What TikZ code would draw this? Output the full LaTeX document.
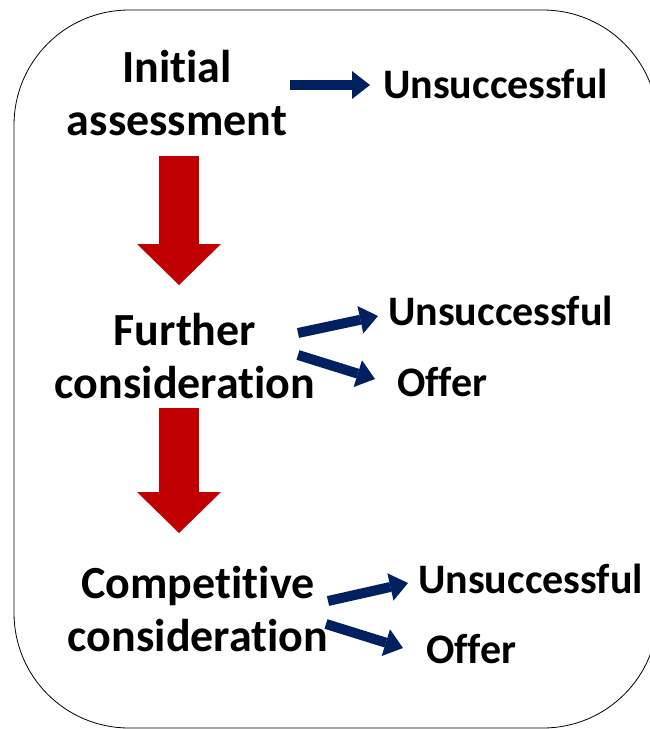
\documentclass[tikz,border=0pt]{standalone}
\usepackage{fontspec}
\setmainfont{Carlito}[Ligatures=NoCommon]
\usetikzlibrary{arrows.meta}
\definecolor{navyblue}{HTML}{002060}
\definecolor{blockred}{HTML}{C00000}
\begin{document}
\begin{tikzpicture}[x=1pt,y=-1pt,
  stage/.style={font=\fontsize{46}{53}\selectfont\bfseries, inner sep=0pt, align=center, anchor=base},
  outcome/.style={font=\fontsize{42}{53}\selectfont\bfseries, inner sep=0pt, anchor=base west},
  navyarrow/.style={draw=navyblue, line width=10pt,
    -{Triangle[length=18pt 0 0, width=28pt 0 0, line width=0pt 0 0]}},
  redarrow/.style={draw=blockred, line width=40pt,
    -{Triangle[length=41pt 0 0, width=84pt 0 0, line width=0pt 0 0]}},
  frame/.style={draw=black, line width=0.8pt, rounded corners=115pt}
]
\useasboundingbox (0,0) rectangle (650,729);
\draw[frame] (14,10) rectangle (658,728);

\node[stage] (ia) at (177,135) {Initial\\assessment};
\node[stage] (fc) at (185,398) {Further\\consideration};
\node[stage] (cc) at (198,651) {Competitive\\consideration};

\node[outcome] (u1) at (383,98) {Unsuccessful};
\node[outcome] (u2) at (388,325) {Unsuccessful};
\node[outcome] (o2) at (397,396) {Offer};
\node[outcome] (u3) at (418,593) {Unsuccessful};
\node[outcome] (o3) at (426,663) {Offer};

\coordinate (a1s) at (290,85);  \coordinate (a1e) at (370,85);
\coordinate (a2s) at (298,333); \coordinate (a2e) at (378,316);
\coordinate (a3s) at (298,355); \coordinate (a3e) at (375,379);
\coordinate (a4s) at (328,601); \coordinate (a4e) at (408,583);
\coordinate (a5s) at (326,624); \coordinate (a5e) at (403,648);
\draw[navyarrow] (a1s) -- (a1e);
\draw[navyarrow] (a2s) -- (a2e);
\draw[navyarrow] (a3s) -- (a3e);
\draw[navyarrow] (a4s) -- (a4e);
\draw[navyarrow] (a5s) -- (a5e);

\coordinate (r1s) at (179,156); \coordinate (r1e) at (179,285);
\coordinate (r2s) at (179,408); \coordinate (r2e) at (179,533);
\draw[redarrow] (r1s) -- (r1e);
\draw[redarrow] (r2s) -- (r2e);
\end{tikzpicture}
\end{document}
